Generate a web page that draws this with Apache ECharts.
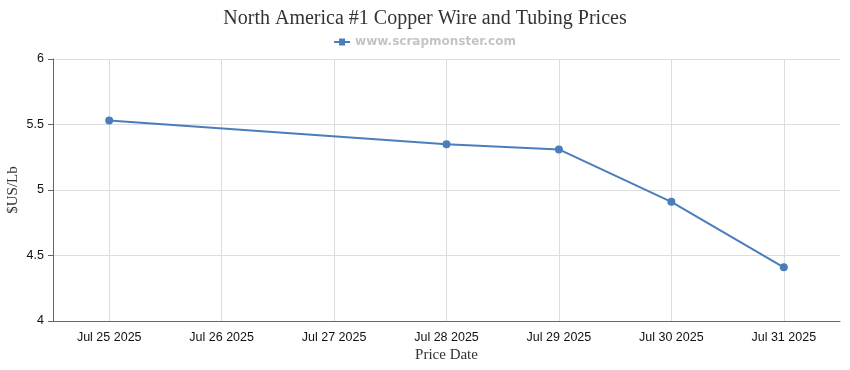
<!DOCTYPE html>
<html><head><meta charset="utf-8">
<script src="https://cdn.jsdelivr.net/npm/echarts@6/dist/echarts.min.js"></script>
<style>html,body{margin:0;padding:0;background:#fff}#c{width:850px;height:370px}</style>
</head><body><div id="c"></div>
<script>
const categories = ['Jul 25 2025','Jul 26 2025','Jul 27 2025','Jul 28 2025','Jul 29 2025','Jul 30 2025','Jul 31 2025'];
const prices = [5.53, null, null, 5.35, 5.31, 4.91, 4.41];
const yTicks = [4, 4.5, 5, 5.5, 6];

const chart = echarts.init(document.getElementById('c'));
chart.setOption({
  animation: false,
  title: {
    text: 'North America #1 Copper Wire and Tubing Prices',
    left: 'center', top: 4,
    textStyle: { fontFamily: 'Liberation Serif', fontSize: 20, fontWeight: 'normal', color: '#333' }
  },
  legend: {
    top: 31, left: 'center',
    itemWidth: 16, itemHeight: 8, itemGap: 5,
    textStyle: { fontFamily: 'DejaVu Sans', fontSize: 12, fontWeight: 'bold', color: '#c4c4c4' },
    data: [{ name: 'www.scrapmonster.com', icon: 'path://M0,3 H16 V5 H0 Z M5,0.5 H11 V7.5 H5 Z' }]
  },
  grid: { left: 53, right: 10, top: 59, bottom: 49, containLabel: false, outerBoundsMode: 'none' },
  xAxis: {
    type: 'category',
    data: categories,
    boundaryGap: true,
    name: 'Price Date', nameLocation: 'middle', nameGap: 27, nameMoveOverlap: false,
    nameTextStyle: { fontFamily: 'Liberation Serif', fontSize: 15, color: '#333' },
    axisLine: { lineStyle: { color: '#666' } },
    axisTick: { alignWithLabel: true, length: 5, lineStyle: { color: '#666' } },
    axisLabel: { fontFamily: 'Liberation Sans', fontSize: 12.5, color: '#111', margin: 10 },
    splitLine: { show: true, alignWithLabel: true, lineStyle: { color: '#ddd' } }
  },
  yAxis: {
    type: 'value', min: yTicks[0], max: yTicks[yTicks.length-1], interval: 0.5,
    name: '$US/Lb', nameLocation: 'middle', nameGap: 32, nameMoveOverlap: false,
    nameTextStyle: { fontFamily: 'Liberation Serif', fontSize: 15, color: '#333' },
    axisLine: { show: true, lineStyle: { color: '#666' } },
    axisTick: { show: true, length: 5, lineStyle: { color: '#666' } },
    axisLabel: { fontFamily: 'Liberation Sans', fontSize: 12.5, color: '#111', margin: 9 },
    splitLine: { lineStyle: { color: '#ddd' } }
  },
  series: [{
    name: 'www.scrapmonster.com',
    type: 'line',
    data: prices,
    connectNulls: true,
    symbol: 'circle', symbolSize: 8,
    itemStyle: { color: '#4a7ebb' },
    lineStyle: { color: '#4a7ebb', width: 2 }
  }]
});
</script></body></html>
